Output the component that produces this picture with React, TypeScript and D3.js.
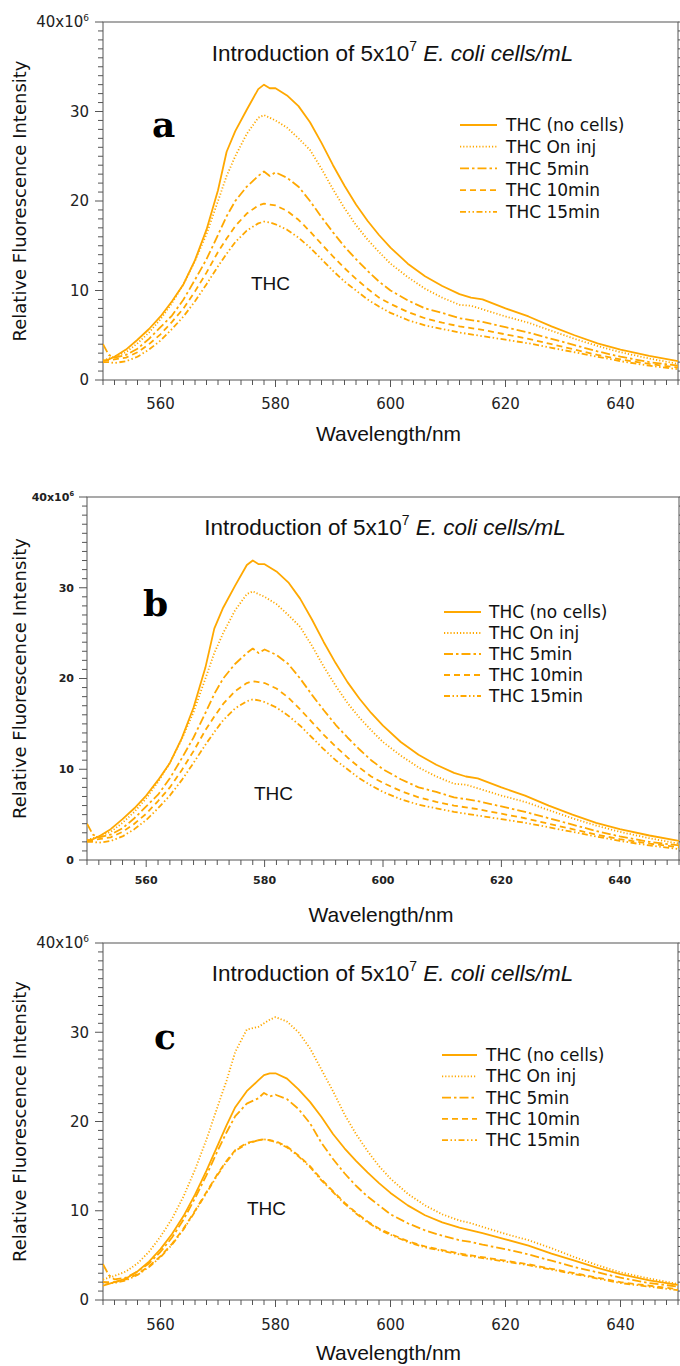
import React from 'react';
import * as d3 from 'd3';

const WAVELENGTHS = [550, 551, 552, 554, 556, 558, 560, 562, 564, 566, 568, 570, 571.5, 573, 575, 577, 578, 579, 580, 582, 584, 586, 588, 590, 592, 594, 596, 598, 600, 603, 606, 609, 612, 614, 616, 620, 624, 628, 632, 636, 640, 645, 650];

const SERIES_NAMES = ['THC (no cells)', 'THC On inj', 'THC 5min', 'THC 10min', 'THC 15min'];
const Y_TICKS = [0, 10, 20, 30, 40];
const X_TICKS = [560, 580, 600, 620, 640];

// Panel a (and b, same measurement), units of 1e6
const A_NO_CELLS = [2.1, 2.3, 2.6, 3.4, 4.5, 5.7, 7.1, 8.8, 10.7, 13.4, 16.8, 21.2, 25.5, 27.8, 30.2, 32.5, 33.0, 32.6, 32.6, 31.8, 30.6, 28.8, 26.5, 24.0, 21.7, 19.6, 17.8, 16.2, 14.8, 13.0, 11.6, 10.5, 9.6, 9.2, 9.0, 8.0, 7.1, 6.0, 5.0, 4.1, 3.4, 2.7, 2.1];
const A_ON_INJ = [2.2, 2.4, 2.6, 3.1, 4.1, 5.3, 6.8, 8.6, 10.7, 13.3, 16.3, 20.0, 22.8, 25.0, 27.5, 29.3, 29.6, 29.3, 29.0, 28.2, 27.0, 25.7, 23.6, 21.3, 19.2, 17.3, 15.7, 14.3, 13.0, 11.5, 10.2, 9.2, 8.4, 8.3, 7.9, 7.1, 6.4, 5.5, 4.6, 3.8, 3.1, 2.4, 1.8];
const A_5MIN = [4.0, 2.8, 2.5, 2.8, 3.5, 4.6, 5.9, 7.2, 9.0, 11.2, 13.5, 16.2, 18.3, 20.0, 21.6, 22.8, 23.3, 22.8, 23.2, 22.6, 21.6, 20.0, 18.2, 16.5, 14.9, 13.5, 12.2, 11.0, 10.0, 8.9, 8.0, 7.5, 6.9, 6.7, 6.5, 5.9, 5.3, 4.6, 3.9, 3.2, 2.6, 2.0, 1.6];
const A_10MIN = [2.2, 2.2, 2.3, 2.5, 3.1, 4.0, 5.1, 6.5, 8.0, 9.9, 12.0, 14.3, 15.8, 17.2, 18.6, 19.5, 19.7, 19.6, 19.5, 18.9, 17.9, 16.6, 15.2, 13.8, 12.5, 11.3, 10.2, 9.2, 8.5, 7.6, 6.9, 6.4, 6.0, 5.8, 5.6, 5.1, 4.6, 4.0, 3.4, 2.8, 2.3, 1.8, 1.4];
const A_15MIN = [2.0, 2.0, 1.9, 2.1, 2.6, 3.4, 4.4, 5.7, 7.1, 8.8, 10.7, 12.7, 14.1, 15.4, 16.7, 17.5, 17.7, 17.6, 17.4, 16.8, 15.9, 14.8, 13.5, 12.2, 11.0, 10.0, 9.0, 8.2, 7.5, 6.7, 6.1, 5.7, 5.3, 5.1, 4.9, 4.5, 4.1, 3.6, 3.1, 2.6, 2.1, 1.6, 1.2];

// Panel c
const C_NO_CELLS = [1.6, 1.8, 2.0, 2.4, 3.2, 4.3, 5.7, 7.4, 9.4, 11.8, 14.5, 17.4, 19.6, 21.6, 23.4, 24.6, 25.2, 25.4, 25.4, 24.8, 23.6, 22.2, 20.5, 18.6, 17.0, 15.6, 14.3, 13.1, 12.0, 10.6, 9.5, 8.7, 8.1, 7.8, 7.5, 6.8, 6.1, 5.2, 4.4, 3.6, 2.9, 2.2, 1.7];
const C_ON_INJ = [2.3, 2.5, 2.7, 3.2, 4.1, 5.4, 7.1, 9.1, 11.6, 14.6, 18.0, 21.8, 24.6, 27.8, 30.3, 30.6, 31.0, 31.4, 31.7, 31.2, 30.0, 28.2, 25.8, 23.4, 20.8, 18.6, 16.7, 15.0, 13.6, 11.9, 10.6, 9.6, 8.9, 8.6, 8.2, 7.4, 6.7, 5.8, 4.8, 3.9, 3.1, 2.4, 1.8];
const C_5MIN = [4.0, 2.8, 2.3, 2.5, 3.2, 4.1, 5.4, 7.0, 9.0, 11.4, 14.0, 16.8, 18.8, 20.6, 22.0, 22.6, 23.2, 22.8, 23.0, 22.5, 21.4, 19.8, 17.6, 15.8, 14.2, 12.8, 11.6, 10.6, 9.6, 8.6, 7.8, 7.2, 6.7, 6.5, 6.2, 5.7, 5.1, 4.4, 3.7, 3.1, 2.5, 1.9, 1.5];
const C_10MIN = [2.0, 2.0, 2.0, 2.3, 2.9, 3.8, 4.9, 6.3, 8.0, 10.0, 12.1, 14.2, 15.6, 16.8, 17.6, 17.9, 18.0, 17.9, 17.8, 17.2, 16.2, 15.0, 13.5, 12.2, 10.9, 9.8, 8.8, 8.0, 7.4, 6.6, 6.0, 5.6, 5.2, 5.0, 4.8, 4.4, 4.0, 3.5, 3.0, 2.5, 2.0, 1.6, 1.2];
const C_15MIN = [2.0, 1.9, 1.9, 2.2, 2.8, 3.7, 4.8, 6.2, 7.9, 9.9, 12.0, 14.1, 15.5, 16.7, 17.5, 17.9, 18.0, 17.9, 17.7, 17.1, 16.1, 14.9, 13.4, 12.1, 10.8, 9.7, 8.7, 7.9, 7.3, 6.5, 5.9, 5.5, 5.1, 4.9, 4.7, 4.3, 3.9, 3.4, 2.9, 2.4, 1.9, 1.5, 1.1];

const ORANGE = '#FFA800';
const DASHES = [undefined, '1.2,2', '9,3,2.5,3', '6,4', '6,2.5,1.5,2.5,1.5,2.5'];
const NARROW = '"Liberation Sans Narrow", "Arial Narrow", "Liberation Sans", sans-serif';
const GENEVA = '"DejaVu Sans", Verdana, sans-serif';

type Cfg = {
  letter: string; x0: number; x1: number; y0: number; y1: number;
  titleY: number; letterX: number; letterY: number;
  legLine0: number; legLine1: number; legText: number; legY: number; legStep: number;
  thcX: number; thcY: number; tickFont: number; tickWeight: string; tickGap: number;
  xLabelY: number; xTitleY: number; yTitleX: number;
};

const PANELS: Cfg[] = [
  { letter: 'a', x0: 103, x1: 678, y0: 22, y1: 380, titleY: 61, letterX: 152, letterY: 137,
    legLine0: 460, legLine1: 497, legText: 506, legY: 125, legStep: 21.7,
    thcX: 251, thcY: 290, tickFont: 15, tickWeight: 'normal', tickGap: 14, xLabelY: 409, xTitleY: 441, yTitleX: 20 },
  { letter: 'b', x0: 87, x1: 679, y0: 497, y1: 860, titleY: 535, letterX: 143, letterY: 616,
    legLine0: 444, legLine1: 481, legText: 489, legY: 612, legStep: 21,
    thcX: 254, thcY: 800, tickFont: 11, tickWeight: 'bold', tickGap: 13, xLabelY: 884, xTitleY: 922, yTitleX: 20 },
  { letter: 'c', x0: 103, x1: 678, y0: 943, y1: 1300, titleY: 981, letterX: 154, letterY: 1049,
    legLine0: 442, legLine1: 477, legText: 486, legY: 1055, legStep: 21.3,
    thcX: 247, thcY: 1215, tickFont: 15, tickWeight: 'normal', tickGap: 14, xLabelY: 1330, xTitleY: 1360, yTitleX: 20 },
];

const PANEL_DATA: number[][][] = [
  [A_NO_CELLS, A_ON_INJ, A_5MIN, A_10MIN, A_15MIN],
  [A_NO_CELLS, A_ON_INJ, A_5MIN, A_10MIN, A_15MIN],
  [C_NO_CELLS, C_ON_INJ, C_5MIN, C_10MIN, C_15MIN],
];

function Panel({ cfg, data, idx }: { cfg: Cfg; data: number[][]; idx: number }) {
  const x = d3.scaleLinear().domain([550, 650]).range([cfg.x0, cfg.x1]);
  const y = d3.scaleLinear().domain([0, 40]).range([cfg.y1, cfg.y0]);
  const line = d3.line<number>().x((_, i) => x(WAVELENGTHS[i])).y((d) => y(d));
  const clipId = `clip-${idx}`;
  const yMinor = d3.range(0, 41, 1);
  const xMinor = d3.range(550, 651, 2);
  const axisColor = '#555';
  const cx = (cfg.x0 + cfg.x1) / 2;
  return (
    <g>
      <defs>
        <clipPath id={clipId}>
          <rect x={cfg.x0} y={cfg.y0} width={cfg.x1 - cfg.x0} height={cfg.y1 - cfg.y0} />
        </clipPath>
      </defs>
      <rect x={cfg.x0} y={cfg.y0} width={cfg.x1 - cfg.x0} height={cfg.y1 - cfg.y0} fill="none" stroke={axisColor} strokeWidth={1} />
      {yMinor.map((v) => (
        <g key={'ym' + v}>
          <line x1={cfg.x0} x2={cfg.x0 - (v % 10 === 0 ? 8 : 5)} y1={y(v)} y2={y(v)} stroke={axisColor} strokeWidth={1} />
          <line x1={cfg.x1} x2={cfg.x1 + (v % 10 === 0 ? 8 : 5)} y1={y(v)} y2={y(v)} stroke={axisColor} strokeWidth={1} />
        </g>
      ))}
      {xMinor.map((v) => (
        <line key={'xm' + v} x1={x(v)} x2={x(v)} y1={cfg.y1} y2={cfg.y1 + (v % 20 === 0 ? 7 : 5)} stroke={axisColor} strokeWidth={1} />
      ))}
      {Y_TICKS.map((v) => (
        <text key={'yl' + v} x={cfg.x0 - cfg.tickGap} y={y(v)} dy="0.36em" textAnchor="end" fontFamily={GENEVA}
          fontSize={cfg.tickFont} fontWeight={cfg.tickWeight} fill="#222">
          {v === 40 ? (<>{'40x10'}<tspan fontSize={cfg.tickFont * 0.6} dy={-cfg.tickFont * 0.45}>6</tspan></>) : String(v)}
        </text>
      ))}
      {X_TICKS.map((v) => (
        <text key={'xl' + v} x={x(v)} y={cfg.xLabelY} textAnchor="middle" fontFamily={GENEVA}
          fontSize={cfg.tickFont} fontWeight={cfg.tickWeight} fill="#222">{v}</text>
      ))}
      <text x={cx - 2} y={cfg.xTitleY} textAnchor="middle" fontFamily={NARROW} fontSize={21} fill="#111">Wavelength/nm</text>
      <text transform={`translate(${cfg.yTitleX},${(cfg.y0 + cfg.y1) / 2}) rotate(-90)`} dy="0.35em" textAnchor="middle"
        fontFamily={GENEVA} fontSize={18} fill="#111">Relative Fluorescence Intensity</text>
      <text x={cx + 2} y={cfg.titleY} textAnchor="middle" fontFamily={NARROW} fontSize={22.5} fill="#111">
        {'Introduction of 5x10'}
        <tspan fontSize={14} dy={-10}>7</tspan>
        <tspan dy={10}>{'  '}</tspan>
        <tspan fontStyle="italic">{'E. coli  cells/mL'}</tspan>
      </text>
      <text x={cfg.letterX} y={cfg.letterY} fontFamily='"DejaVu Serif", serif' fontWeight="bold" fontSize={36} fill="#000">{cfg.letter}</text>
      <text x={cfg.thcX} y={cfg.thcY} fontFamily={NARROW} fontSize={19} fill="#111">THC</text>
      <g clipPath={`url(#${clipId})`}>
        {data.map((s, i) => (
          <path key={i} d={line(s) || ''} fill="none" stroke={ORANGE} strokeWidth={1.8}
            strokeDasharray={DASHES[i]} strokeLinejoin="round" />
        ))}
      </g>
      {SERIES_NAMES.map((name, i) => {
        const yy = cfg.legY + i * cfg.legStep;
        return (
          <g key={name}>
            <line x1={cfg.legLine0} x2={cfg.legLine1} y1={yy} y2={yy} stroke={ORANGE} strokeWidth={1.8} strokeDasharray={DASHES[i]} />
            <text x={cfg.legText} y={yy} dy="0.36em" fontFamily={GENEVA} fontSize={17} fill="#111">{name}</text>
          </g>
        );
      })}
    </g>
  );
}

export default function App() {
  return (
    <svg width={680} height={1366} style={{ position: 'absolute', left: 0, top: 0, background: '#fff' }}>
      <rect x={0} y={0} width={680} height={1366} fill="#fff" />
      {PANELS.map((cfg, i) => (
        <Panel key={cfg.letter} cfg={cfg} data={PANEL_DATA[i]} idx={i} />
      ))}
    </svg>
  );
}
